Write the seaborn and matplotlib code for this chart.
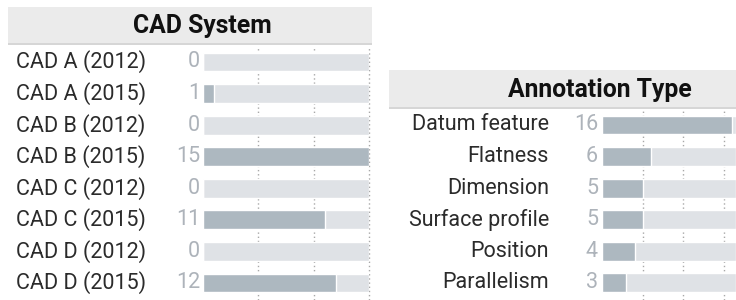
import matplotlib
matplotlib.use("Agg")
import matplotlib.pyplot as plt
import matplotlib.transforms as mtransforms
from matplotlib.patches import Rectangle
import seaborn as sns
import pandas as pd

cad_labels = ["CAD A (2012)", "CAD A (2015)", "CAD B (2012)", "CAD B (2015)",
              "CAD C (2012)", "CAD C (2015)", "CAD D (2012)", "CAD D (2015)"]
cad_values = [0, 1, 0, 15, 0, 11, 0, 12]

ann_labels = ["Datum feature", "Flatness", "Dimension", "Surface profile",
              "Position", "Parallelism"]
ann_values = [16, 6, 5, 5, 4, 3]

grid_ticks = [5, 10, 15]

sns.set_theme(style="white")
plt.rcParams["font.family"] = ["Roboto", "DejaVu Sans"]

W, H = 736, 300
fig = plt.figure(figsize=(W / 100, H / 100), dpi=100)
fig.patch.set_facecolor("white")

TRACK = "#dfe2e6"
BAR = "#adb8c0"
HEAD = "#ebebeb"
HEAD_LINE = "#d6d6d6"
VAL = "#adb3ba"
TXT = "#2b2b2b"
FS = 15.5


def px_axes(x0, y0, x1, y1):
    return fig.add_axes([x0 / W, 1 - y1 / H, (x1 - x0) / W, (y1 - y0) / H])


def header(x0, y0, x1, y1, title, cx):
    fig.patches.append(Rectangle((x0 / W, 1 - y1 / H), (x1 - x0) / W, (y1 - y0) / H,
                                 transform=fig.transFigure, facecolor=HEAD,
                                 edgecolor="none", zorder=0))
    fig.patches.append(Rectangle((x0 / W, 1 - (y1 + 1.5) / H), (x1 - x0) / W, 1.5 / H,
                                 transform=fig.transFigure, facecolor=HEAD_LINE,
                                 edgecolor="none", zorder=0))
    fig.text(cx / W, 1 - ((y0 + y1) / 2 + 1.5) / H, title, ha="center", va="center",
             fontsize=17.8, fontweight="bold", color="#111111")


def panel(ax, labels, values, xmax, ymin, ymax, label_x, label_ha, val_x):
    df = pd.DataFrame({"label": labels, "value": values,
                       "track": [xmax] * len(labels)})
    for t in grid_ticks:
        ax.axvline(t, color="#a8a8a8", linestyle=(0, (1, 2)), linewidth=1,
                   zorder=0, clip_on=False)
    sns.barplot(data=df, y="label", x="track", color=TRACK, width=0.6,
                saturation=1, ax=ax, zorder=1, orient="h")
    sns.barplot(data=df, y="label", x="value", color=BAR, width=0.6,
                saturation=1, ax=ax, zorder=2, orient="h")
    ax.set_xlim(0, xmax)
    ax.set_ylim(ymax, ymin)
    ax.axis("off")
    tr = mtransforms.blended_transform_factory(fig.transFigure, ax.transData)
    for i, (lab, v) in enumerate(zip(labels, values)):
        ax.text(label_x / W, i, lab, transform=tr, ha=label_ha, va="center",
                fontsize=FS, color=TXT)
        ax.text(val_x / W, i, str(v), transform=tr, ha="right", va="center",
                fontsize=FS, color=VAL)


step = 31.57
# Left panel
header(8, 7, 372, 43, "CAD System", 202)
axL = px_axes(203, 46, 369, 300)
panel(axL, cad_labels, cad_values, 15,
      (46 - 62) / step, (300 - 62) / step, 16, "left", 200)

# Right panel
header(389, 70, 736, 107, "Annotation Type", 600)
axR = px_axes(602, 110, 736, 300)
panel(axR, ann_labels, ann_values, 16.45,
      (110 - 125) / step, (300 - 125) / step, 549, "right", 598)

fig.savefig("out.png", dpi=100)
